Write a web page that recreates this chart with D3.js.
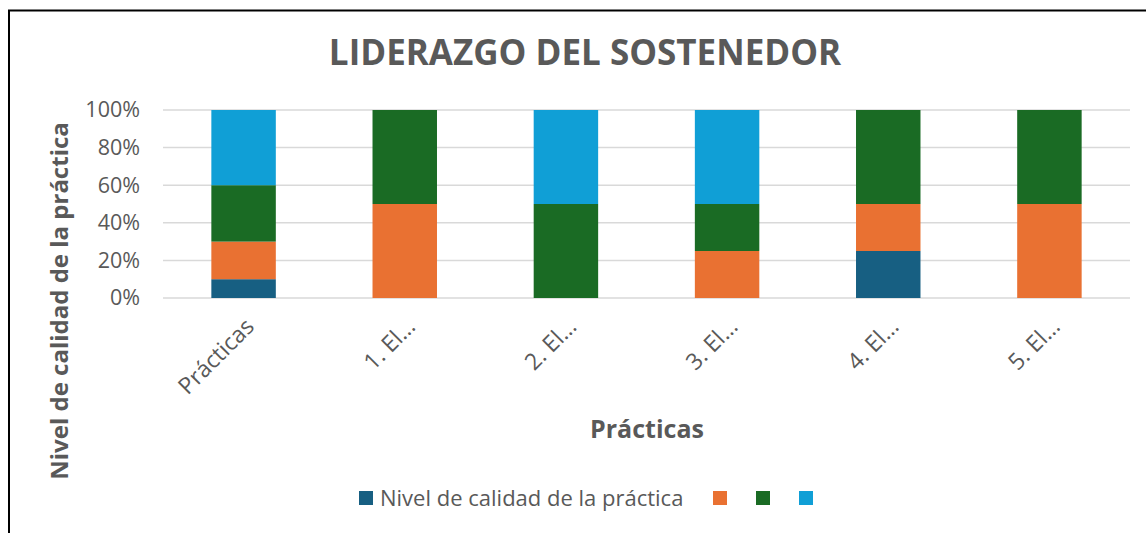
<!DOCTYPE html>
<html><head><meta charset="utf-8">
<script src="https://cdn.jsdelivr.net/npm/d3@7"></script>
<style>body{margin:0;background:#fff;} text{font-family:"Open Sans",sans-serif;}</style>
</head><body><svg id="c" width="1146" height="533"></svg>
<script>
const categories = ["Prácticas","1. El…","2. El…","3. El…","4. El…","5. El…"];
const seriesNames = ["Nivel de calidad de la práctica","","",""];
const s1 = [0.10,0,0,0,0.25,0];
const s2 = [0.20,0.50,0,0.25,0.25,0.50];
const s3 = [0.30,0.50,0.50,0.25,0.50,0.50];
const s4 = [0.40,0,0.50,0.50,0,0];
const colors = ["#175f82","#e97132","#1a6b24","#109fd6"];
const yTicks = [0,0.2,0.4,0.6,0.8,1.0];
const title = "LIDERAZGO DEL SOSTENEDOR";
const xTitle = "Prácticas";
const yTitle = "Nivel de calidad de la práctica";

const svg = d3.select("#c");
const W=1146,H=533;
svg.append("rect").attr("x",0).attr("y",0).attr("width",W).attr("height",H).attr("fill","#fff");
svg.append("path").attr("d","M9,533 L9,10.5 L1146,10.5").attr("fill","none").attr("stroke","#000").attr("stroke-width",2);

const pL=163,pR=1130,pT=110,pB=298;
const x=d3.scaleBand().domain(categories).range([pL,pR]).paddingInner(0.6).paddingOuter(0.3);
const y=d3.scaleLinear().domain([0,1]).range([pB,pT]);

svg.append("g").selectAll("line").data(yTicks).join("line")
  .attr("x1",pL).attr("x2",pR).attr("y1",d=>y(d)).attr("y2",d=>y(d))
  .attr("stroke","#d9d9d9").attr("stroke-width",1.5);

const table = categories.map((c,i)=>({cat:c,a:s1[i],b:s2[i],c:s3[i],d:s4[i]}));
const stack=d3.stack().keys(["a","b","c","d"])(table);
svg.append("g").selectAll("g").data(stack).join("g").attr("fill",(d,i)=>colors[i])
  .selectAll("rect").data(d=>d).join("rect")
  .attr("x",d=>x(d.data.cat)).attr("width",x.bandwidth())
  .attr("y",d=>y(d[1])).attr("height",d=>y(d[0])-y(d[1]));

const ya=d3.axisLeft(y).tickValues(yTicks).tickFormat(d3.format(".0%")).tickSize(0).tickPadding(23);
const yg=svg.append("g").attr("transform",`translate(${pL},0)`).call(ya);
yg.select(".domain").remove();
yg.selectAll("text").attr("font-size",21.5).attr("fill","#595959").attr("font-family","Open Sans");

const xa=d3.axisBottom(x).tickSize(0).tickPadding(0);
const xg=svg.append("g").attr("transform",`translate(0,${pB})`).call(xa);
xg.select(".domain").remove();
xg.selectAll("text").attr("font-size",23).attr("fill","#595959").attr("font-family","Open Sans")
  .attr("text-anchor","end").attr("dy",0).attr("y",0)
  .attr("transform",`translate(12,30) rotate(-45)`);

svg.append("text").attr("x",585).attr("y",65).attr("text-anchor","middle")
  .attr("font-size",35).attr("font-weight","bold").attr("fill","#595959").text(title);
svg.append("text").attr("x",647).attr("y",438).attr("text-anchor","middle")
  .attr("font-size",25).attr("font-weight","bold").attr("fill","#595959").text(xTitle);
svg.append("text").attr("transform","translate(68,301) rotate(-90)").attr("text-anchor","middle")
  .attr("font-size",24).attr("font-weight","bold").attr("fill","#595959").text(yTitle);

const legX=[359,713,756,799];
const lg=svg.append("g").selectAll("g").data(seriesNames).join("g")
  .attr("transform",(d,i)=>`translate(${legX[i]},491)`);
lg.append("rect").attr("width",14).attr("height",14).attr("fill",(d,i)=>colors[i]);
lg.append("text").attr("x",21).attr("y",15).attr("font-size",22).attr("fill","#595959").text(d=>d);
</script></body></html>
